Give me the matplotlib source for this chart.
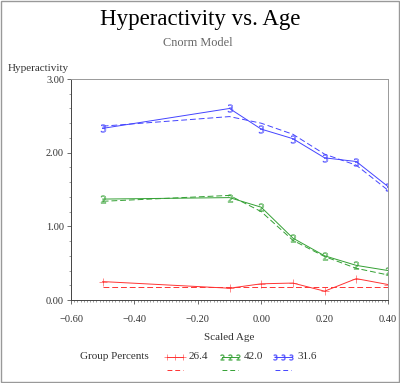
import numpy as np
import matplotlib
matplotlib.use('Agg')
import matplotlib.pyplot as plt
from matplotlib.lines import Line2D
from matplotlib.patches import Rectangle
from matplotlib.ticker import MultipleLocator

## data
age = [-0.5, -0.1, 0.0, 0.1, 0.2, 0.3, 0.4]
groups = ['26.4', '42.0', '31.6']
colors = ['#ff3333', '#33a033', '#4444ff']
markers = ['+', '$2$', '$3$']
observed = [
    [0.25, 0.16, 0.22, 0.23, 0.12, 0.29, 0.21],
    [1.37, 1.39, 1.26, 0.84, 0.60, 0.47, 0.40],
    [2.33, 2.60, 2.32, 2.19, 1.93, 1.88, 1.54],
]
predicted = [
    [0.18, 0.18, 0.18, 0.18, 0.18, 0.18, 0.18],
    [1.34, 1.42, 1.20, 0.81, 0.59, 0.43, 0.34],
    [2.36, 2.49, 2.40, 2.25, 1.98, 1.83, 1.49],
]
xticks = [-0.6, -0.4, -0.2, 0.0, 0.2, 0.4]
yticks = [0.0, 1.0, 2.0, 3.0]

plt.rcParams['font.family'] = ['Liberation Serif', 'DejaVu Serif']

fig = plt.figure(figsize=(4, 3.83), dpi=100)
ax = fig.add_axes([0.1775, 0.2167, 0.7925, 0.577])

for obs, pred, c, m in zip(observed, predicted, colors, markers):
    ax.plot(age, obs, color=c, lw=0.7, marker=m, ms=5.5, mew=0.4, mfc='none', mec=c)
    ax.plot(age, pred, color=c, lw=0.7, ls=(0, (6, 3)))

ax.set_xlim(-0.6, 0.4)
ax.set_ylim(0, 3)
ax.set_xticks(xticks)
ax.set_xticklabels(['\u22120.60', '\u22120.40', '\u22120.20', '0.00', '0.20', '0.40'])
ax.set_yticks(yticks)
ax.set_yticklabels(['%.2f' % v for v in yticks])
ax.xaxis.set_minor_locator(MultipleLocator(0.01))
ax.yaxis.set_minor_locator(MultipleLocator(0.2))
ax.tick_params(labelsize=7.5, length=3, width=0.6, color='#555555', labelcolor='#333333')
ax.tick_params(axis='x', pad=8)
ax.tick_params(axis='y', pad=2)
ax.tick_params(which='minor', length=1.5, width=0.5, color='#777777')
for s in ax.spines.values():
    s.set_linewidth(0.7)
    s.set_color('#999999')
ax.spines['left'].set_color('#444444')
ax.spines['bottom'].set_color('#444444')

fig.text(0.5, 0.948, 'Hyperactivity vs. Age', ha='center', va='center', fontsize=16.5)
fig.text(0.495, 0.888, 'Cnorm Model', ha='center', va='center', fontsize=8.8, color='#666666')
fig.text(0.018, 0.822, 'Hyperactivity', ha='left', va='center', fontsize=8, color='#333333')
fig.text(0.572, 0.12, 'Scaled Age', ha='center', va='center', fontsize=8, color='#333333')

## legend drawn by hand
fig.text(0.2, 0.069, 'Group Percents', ha='left', va='center', fontsize=8, color='#333333')
lx = [0.4175, 0.555, 0.6875]
for x0, g, c, m in zip(lx, groups, colors, markers):
    fig.add_artist(Line2D([x0, x0 + 0.02, x0 + 0.04], [0.069] * 3, color=c, lw=0.7,
                          marker=m, ms=4, mew=0.4, mfc='none', mec=c,
                          transform=fig.transFigure))
    fig.add_artist(Line2D([x0, x0 + 0.04], [0.034, 0.034], color=c, lw=0.7,
                          ls=(0, (5, 3)), transform=fig.transFigure))
    fig.text(x0 + 0.055, 0.069, g, ha='left', va='center', fontsize=8, color='#333333')

fig.add_artist(Rectangle((0.002, 0.002), 0.996, 0.996, fill=False, ec='#999999',
                         lw=1.0, transform=fig.transFigure))

fig.savefig('out.png', dpi=100)
